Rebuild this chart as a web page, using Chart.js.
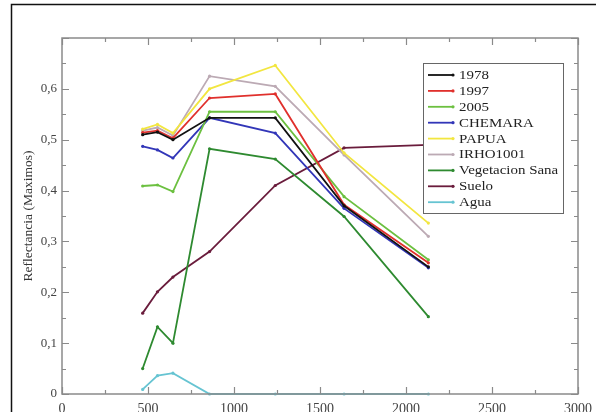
<!DOCTYPE html>
<html>
<head>
<meta charset="utf-8">
<script src="https://cdn.jsdelivr.net/npm/chart.js@4/dist/chart.umd.min.js"></script>
<style>
  html, body { margin: 0; padding: 0; background: #ffffff; }
  canvas { display: block; }
</style>
</head>
<body>
<canvas id="c" width="596" height="412"></canvas>
<script>
// Wavelengths (nm) of the sampled bands
const wavelengths = [469, 555, 645, 858, 1240, 1640, 2130];

// Reflectance per series
const s1978      = [0.510, 0.515, 0.500, 0.543, 0.543, 0.370, 0.250];
const s1997      = [0.514, 0.518, 0.503, 0.582, 0.590, 0.372, 0.258];
const s2005      = [0.409, 0.411, 0.398, 0.555, 0.555, 0.388, 0.264];
const chemara    = [0.487, 0.480, 0.464, 0.543, 0.513, 0.365, 0.248];
const papua      = [0.521, 0.530, 0.513, 0.600, 0.646, 0.474, 0.336];
const irho1001   = [0.518, 0.524, 0.508, 0.625, 0.605, 0.470, 0.310];
const vegSana    = [0.050, 0.132, 0.100, 0.482, 0.462, 0.349, 0.152];
const suelo      = [0.159, 0.201, 0.230, 0.280, 0.410, 0.484, 0.490];
const agua       = [0.009, 0.036, 0.041, 0.000, 0.000, 0.000, 0.000];

const seriesNames  = ['1978', '1997', '2005', 'CHEMARA', 'PAPUA', 'IRHO1001', 'Vegetacion Sana', 'Suelo', 'Agua'];
const seriesValues = [s1978, s1997, s2005, chemara, papua, irho1001, vegSana, suelo, agua];
const seriesColors = ['#111111', '#e0302c', '#6cc040', '#3236b8', '#f2e640', '#bcaab4', '#2e8a30', '#6a1c3c', '#66c4d2'];

// Axis ticks
const xTicks = [0, 500, 1000, 1500, 2000, 2500, 3000];
const yTicks = [0, 0.1, 0.2, 0.3, 0.4, 0.5, 0.6];

const SERIF = '"Liberation Serif", "DejaVu Serif", serif';

const datasets = seriesNames.map((name, i) => ({
  label: name,
  data: wavelengths.map((w, j) => ({ x: w, y: seriesValues[i][j] })),
  borderColor: seriesColors[i],
  backgroundColor: seriesColors[i],
  borderWidth: 1.8,
  pointRadius: 1.6,
  pointBorderWidth: 0,
  pointHoverRadius: 1.6,
  showLine: true,
  tension: 0,
  clip: false
}));

// Plot frame, inward tick marks, boxed legend and outer border
const decorations = {
  id: 'decorations',
  afterDatasetsDraw(chart) {
    const { ctx, chartArea: a, scales: { x, y } } = chart;
    ctx.save();
    ctx.strokeStyle = '#8a8a8a';
    ctx.lineWidth = 1.5;
    ctx.strokeRect(a.left, a.top, a.right - a.left, a.bottom - a.top);

    ctx.lineWidth = 1.2;
    ctx.beginPath();
    for (let v = 0; v <= 3000; v += 250) {
      const px = Math.round(x.getPixelForValue(v)) + 0.5;
      const len = v % 500 === 0 ? 7 : 4;
      ctx.moveTo(px, a.bottom); ctx.lineTo(px, a.bottom - len);
      ctx.moveTo(px, a.top); ctx.lineTo(px, a.top + len);
    }
    for (let k = 0; k <= 14; k++) {
      const py = Math.round(y.getPixelForValue(k * 0.05)) + 0.5;
      const len = k % 2 === 0 ? 7 : 4;
      ctx.moveTo(a.left, py); ctx.lineTo(a.left + len, py);
      ctx.moveTo(a.right, py); ctx.lineTo(a.right - len, py);
    }
    ctx.stroke();

    // Legend box
    const bx = 423, by = 63, bw = 140, bh = 150;
    ctx.fillStyle = '#ffffff';
    ctx.fillRect(bx, by, bw, bh);
    ctx.strokeStyle = '#666666';
    ctx.lineWidth = 1;
    ctx.strokeRect(bx + 0.5, by + 0.5, bw, bh);
    ctx.font = '13px ' + SERIF;
    ctx.textBaseline = 'middle';
    ctx.textAlign = 'left';
    chart.data.datasets.forEach((ds, i) => {
      const ry = by + 12 + i * 15.9;
      ctx.strokeStyle = ds.borderColor;
      ctx.lineWidth = 1.8;
      ctx.beginPath();
      ctx.moveTo(bx + 5, ry); ctx.lineTo(bx + 30, ry);
      ctx.stroke();
      ctx.fillStyle = ds.borderColor;
      ctx.beginPath();
      ctx.arc(bx + 30, ry, 1.6, 0, Math.PI * 2);
      ctx.fill();
      ctx.fillStyle = '#222222';
      ctx.save();
      ctx.translate(bx + 36, ry + 0.5);
      ctx.scale(1.15, 1);
      ctx.fillText(ds.label, 0, 0);
      ctx.restore();
    });

    // Outer border
    ctx.strokeStyle = '#111111';
    ctx.lineWidth = 1.5;
    ctx.strokeRect(11.5, 4.5, 620, 440);
    ctx.restore();
  }
};

new Chart(document.getElementById('c'), {
  type: 'scatter',
  data: { datasets },
  options: {
    responsive: false,
    animation: false,
    layout: { padding: { left: 0, top: 38, right: 18, bottom: 0 } },
    plugins: { legend: { display: false }, tooltip: { enabled: false } },
    scales: {
      x: {
        type: 'linear',
        min: 0,
        max: 3000,
        afterBuildTicks: (s) => { s.ticks = xTicks.map(v => ({ value: v })); },
        afterFit: (s) => { s.height = 18; s.paddingLeft = 0; s.paddingRight = 0; },
        grid: { display: false, drawTicks: false },
        border: { display: false },
        ticks: {
          padding: 7,
          color: '#444444',
          font: { family: SERIF, size: 14 },
          maxRotation: 0,
          callback: (v) => String(v)
        }
      },
      y: {
        type: 'linear',
        min: 0,
        max: 0.7,
        afterBuildTicks: (s) => { s.ticks = yTicks.map(v => ({ value: v })); },
        afterFit: (s) => { s.width = 62; s.paddingTop = 0; s.paddingBottom = 0; },
        grid: { display: false, drawTicks: false },
        border: { display: false },
        title: {
          display: true,
          text: 'Reflectancia (Maximos)',
          color: '#333333',
          font: { family: SERIF, size: 13.5 },
          padding: { top: 20, bottom: 0 }
        },
        ticks: {
          padding: 5,
          color: '#444444',
          font: { family: SERIF, size: 13 },
          callback: (v) => (Math.round(v * 10) / 10).toString().replace('.', ',')
        }
      }
    }
  },
  plugins: [decorations]
});
</script>
</body>
</html>
